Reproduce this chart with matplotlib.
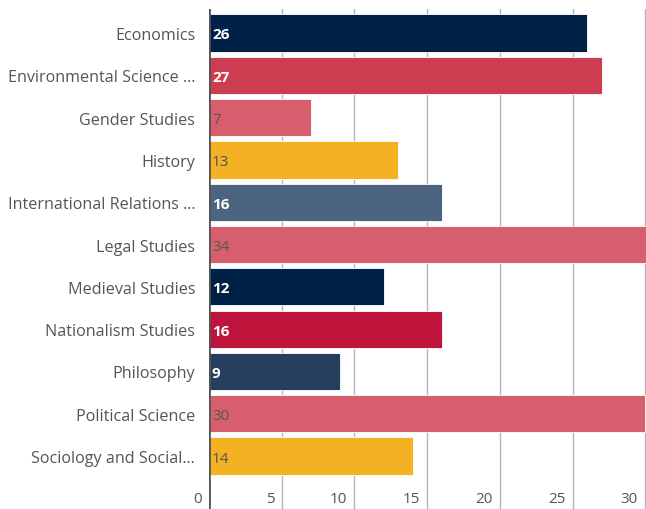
import matplotlib.pyplot as plt
import numpy as np

categories = ["Economics", "Environmental Science ...", "Gender Studies", "History",
              "International Relations ...", "Legal Studies", "Medieval Studies",
              "Nationalism Studies", "Philosophy", "Political Science",
              "Sociology and Social..."]
values = [26, 27, 7, 13, 16, 34, 12, 16, 9, 30, 14]
colors = ["#002147", "#cc3d52", "#d75f6d", "#f4b123", "#4d6480", "#d75f6d",
          "#002147", "#be133b", "#263f5e", "#d75f6d", "#f4b123"]
dark_label = [True, True, False, False, True, False, True, True, True, False, False]
x_ticks = [0, 5, 10, 15, 20, 25, 30]

plt.rcParams['font.family'] = ['Open Sans', 'DejaVu Sans']

fig = plt.figure(figsize=(6.46, 5.10), dpi=100)
ax = fig.add_axes([209 / 646, 0, 1 - 209 / 646, 500 / 510])

ys = np.arange(len(categories))
ax.barh(ys, values, height=0.88, color=colors, edgecolor="white", linewidth=0.6, zorder=2)

ax.set_xlim(0, 30.05)
ax.set_ylim(11.25, -0.567)

for x in x_ticks[1:]:
    ax.axvline(x, color="#b5b5b5", linewidth=1, zorder=1)
ax.axvline(0, color="#555555", linewidth=2, zorder=3)

for y, v, d in zip(ys, values, dark_label):
    if d:
        ax.text(0.2, y, str(v), color="white", fontweight="bold", fontsize=11,
                va="center_baseline", ha="left", zorder=4)
    else:
        ax.text(0.2, y, str(v), color="#555555", fontsize=11,
                va="center_baseline", ha="left", zorder=4)

for y, c in zip(ys, categories):
    ax.text(-0.95, y, c, color="#555555", fontsize=11.6, va="center_baseline",
            ha="right", clip_on=False)

for x in x_ticks:
    ax.text(x - 0.5, 10.95, str(x), color="#555555", fontsize=11,
            va="center_baseline", ha="right")

ax.set_xticks([])
ax.set_yticks([])
for s in ax.spines.values():
    s.set_visible(False)

fig.savefig("out.png", dpi=100)
